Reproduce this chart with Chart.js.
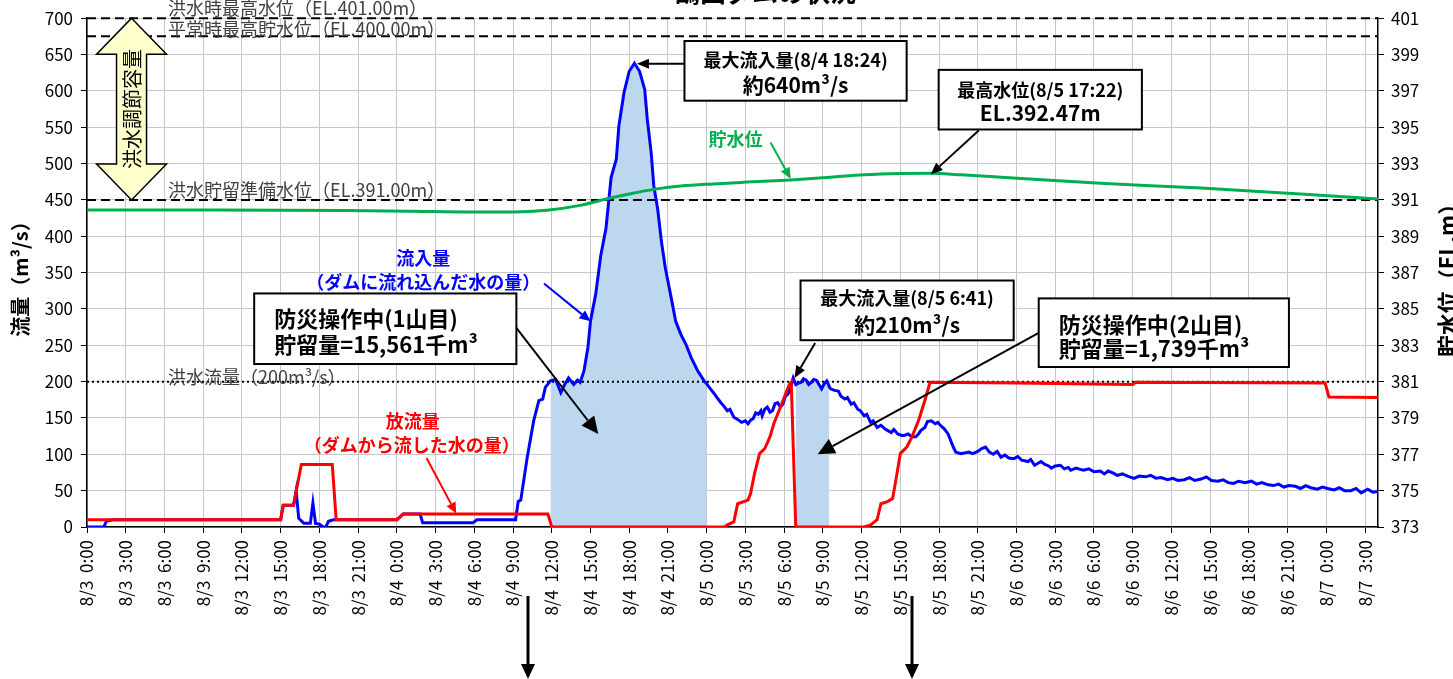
<!DOCTYPE html>
<html lang="ja">
<head>
<meta charset="UTF-8">
<title>ダムの状況</title>
<script src="https://cdn.jsdelivr.net/npm/chart.js"></script>
<style>
  html, body { margin: 0; padding: 0; background: #fff; }
  #wrap { width: 1453px; height: 679px; }
</style>
</head>
<body>
<div id="wrap"><canvas id="damChart" width="1453" height="679"></canvas></div>
<script>
const FONT = '"Noto Sans CJK JP", "Noto Sans", sans-serif';

// 時刻は 8/3 0:00 からの経過時間 [h]
const xTickLabels = [
  '8/3  0:00', '8/3  3:00', '8/3  6:00', '8/3  9:00', '8/3  12:00', '8/3  15:00', '8/3  18:00', '8/3  21:00',
  '8/4  0:00', '8/4  3:00', '8/4  6:00', '8/4  9:00', '8/4  12:00', '8/4  15:00', '8/4  18:00', '8/4  21:00',
  '8/5  0:00', '8/5  3:00', '8/5  6:00', '8/5  9:00', '8/5  12:00', '8/5  15:00', '8/5  18:00', '8/5  21:00',
  '8/6  0:00', '8/6  3:00', '8/6  6:00', '8/6  9:00', '8/6  12:00', '8/6  15:00', '8/6  18:00', '8/6  21:00',
  '8/7  0:00', '8/7  3:00'
];

// 流入量 [h, m3/s]
const inflow = [
  [0,0],[1.3,0],[1.5,8],[2,10],[15,10],[15.2,30],[16,30],[16.2,50],[16.4,12],[16.8,5],[17.3,5],[17.5,33],
  [17.7,5],[18,4],[18.3,0],[18.5,0],[18.7,8],[19.1,10],[24,10],[24.5,18],[25.8,18],[26,6],[29.9,6],[30.2,10],
  [33.2,10],[33.4,35],[33.6,37],[34.1,96],[34.6,146],[35,174],[35.3,176],[35.5,192],[35.9,201],[36.3,203],
  [36.7,185],[37,196],[37.3,205],[37.7,196],[38,202],[38.2,199],[38.5,215],[38.8,247],[39,283],[39.4,320],
  [39.8,374],[40.2,411],[40.6,481],[41,506],[41.2,552],[41.6,598],[42,627],[42.4,638],[42.8,627],[43.2,602],
  [43.4,561],[43.7,515],[43.9,470],[44.2,438],[44.5,392],[44.8,356],[45.2,320],[45.6,283],[46,265],[46.4,251],
  [46.8,233],[47.3,215],[47.8,201],[48,197],[48.2,192],[48.6,183],[48.8,178],[49.1,171],[49.3,167],[49.6,160],
  [49.8,162],[50.1,151],[50.4,148],[50.7,144],[51,146],[51.2,142],[51.4,147],[51.6,149],[51.8,157],[52,155],
  [52.2,160],[52.3,153],[52.5,162],[52.7,165],[52.9,158],[53.1,160],[53.3,170],[53.5,171],[53.7,165],[53.9,169],
  [54.1,180],[54.3,183],[54.5,192],[54.7,205],[54.9,196],[55.1,198],[55.3,199],[55.5,204],[55.7,202],[55.9,196],
  [56.1,199],[56.3,203],[56.5,202],[56.7,196],[56.9,190],[57.1,197],[57.3,201],[57.5,193],[57.6,190],[57.9,188],
  [58.2,187],[58.4,180],[58.7,176],[58.9,178],[59.2,169],[59.4,171],[59.7,162],[59.9,160],[60.2,153],[60.4,155],
  [60.7,144],[60.9,146],[61.2,137],[61.5,140],[61.8,135],[62,133],[62.3,130],[62.5,134],[62.8,128],[63.1,126],
  [63.3,126],[63.6,128],[63.9,124],[64.2,124],[64.4,128],[64.6,133],[64.9,137],[65.1,145],[65.4,146],[65.7,142],
  [65.9,144],[66.1,140],[66.4,135],[66.7,128],[66.9,119],[67.1,110],[67.3,103],[67.7,101],[68,102],[68.3,103],
  [68.6,101],[69,104],[69.3,108],[69.6,110],[69.9,103],[70.2,100],[70.5,104],[70.8,96],[71.1,99],[71.4,95],
  [71.8,94],[72.1,97],[72.4,92],[72.9,90],[73.1,93],[73.4,85],[73.7,88],[73.9,90],[74.2,86],[74.5,84],[74.7,81],
  [75,84],[75.4,85],[75.7,80],[76,82],[76.2,78],[76.6,81],[77,79],[77.2,78],[77.6,80],[78,76],[78.5,77],[78.8,73],
  [79.1,77],[79.5,74],[79.8,71],[80.2,73],[80.6,70],[81.1,67],[81.5,70],[82,69],[82.4,71],[82.8,67],[83.2,68],
  [83.7,65],[84.1,67],[84.5,64],[85,65],[85.4,68],[85.8,64],[86.3,66],[86.7,69],[87.1,64],[87.6,63],[88,65],
  [88.4,61],[88.8,60],[89.2,63],[89.7,61],[90.2,63],[90.6,59],[91,61],[91.5,58],[91.9,57],[92.3,59],[92.7,55],
  [93.1,57],[93.6,56],[94,53],[94.4,57],[94.8,54],[95.3,52],[95.7,55],[96.1,53],[96.6,51],[97,54],[97.4,50],
  [97.9,50],[98.3,53],[98.7,47],[99.2,52],[99.6,48],[100,49]
];

// 放流量 [h, m3/s]
const outflow = [
  [0,10],[15,10],[15.2,30],[16,30],[16.6,86],[19,86],[19.3,10],[24,10],[24.5,18],[35.7,18],[36,0],[49.4,0],
  [49.6,3],[50.1,7],[50.4,32],[51.2,37],[51.4,46],[51.7,73],[52.1,101],[52.5,108],[52.9,124],[53.2,142],
  [53.6,160],[54,178],[54.4,196],[54.55,199],[54.9,0],[60.2,0],[60.7,3],[61.2,10],[61.5,32],[62,35],[62.4,39],
  [62.7,69],[63,101],[63.5,110],[63.9,124],[64.4,146],[64.9,174],[65.3,199],[72,198],[81,196],[81.2,199],
  [95.9,198],[96.2,179],[100,178]
];

// 貯水位 [h, EL.m]
const level = [
  [0,390.45],[10,390.45],[20,390.42],[25,390.38],[30,390.34],[33,390.34],[35.6,390.43],[38.2,390.70],
  [40.3,391.06],[42.1,391.34],[43.9,391.58],[46,391.76],[48.5,391.88],[51.1,391.98],[54.5,392.10],
  [57.6,392.25],[60.2,392.38],[63,392.45],[65.4,392.47],[67.7,392.38],[70.8,392.25],[78.5,391.92],
  [86.3,391.65],[94,391.32],[100,391.05]
];

// 防災操作中（貯留）の時間帯 [h]
const storageWindows = [[35.85, 48.0], [54.9, 57.5]];

// 基準水位 [EL.m] と洪水流量 [m3/s]
const elevLines = [401, 400, 391];
const elevLabels = ['洪水時最高水位（EL.401.00m）', '平常時最高貯水位（EL.400.00m）', '洪水貯留準備水位（EL.391.00m）'];
const floodFlow = 200;
const floodFlowLabel = '洪水流量（200m³/s）';

// 下の矢印の時刻 [h]
const markHours = [34.15, 63.9];

function pts(list) { return list.map(p => ({ x: p[0], y: p[1] })); }
function windowPts(list, from, to) { return pts(list.filter(p => p[0] >= from && p[0] <= to)); }
function hline(v) { return [{ x: 0, y: v }, { x: 100, y: v }]; }

const datasets = [
  { data: pts(level), yAxisID: 'y2', borderColor: '#00b050', borderWidth: 3, cubicInterpolationMode: 'monotone', order: 1 },
  { data: pts(outflow), yAxisID: 'y', borderColor: '#ff0000', borderWidth: 3, order: 2 },
  { data: pts(inflow), yAxisID: 'y', borderColor: '#0000ff', borderWidth: 3, order: 3 }
];
elevLines.forEach(v => datasets.push({
  data: hline(v), yAxisID: 'y2', borderColor: '#000', borderWidth: 2, borderDash: [9, 5], clip: false, order: 4
}));
datasets.push({ data: hline(floodFlow), yAxisID: 'y', borderColor: '#000', borderWidth: 2, borderDash: [2, 3], order: 4 });
storageWindows.forEach(w => datasets.push({
  data: windowPts(inflow, w[0], w[1]), yAxisID: 'y', borderWidth: 0, borderColor: 'rgba(0,0,0,0)',
  backgroundColor: '#bdd7ee', fill: 'origin', order: 5
}));

function arrow(ctx, x1, y1, x2, y2, color, width, head, hw) {
  const a = Math.atan2(y2 - y1, x2 - x1);
  const bx = x2 - head * Math.cos(a), by = y2 - head * Math.sin(a);
  ctx.save();
  ctx.setLineDash([]);
  ctx.strokeStyle = color; ctx.fillStyle = color; ctx.lineWidth = width;
  ctx.beginPath(); ctx.moveTo(x1, y1); ctx.lineTo(bx, by); ctx.stroke();
  ctx.beginPath();
  ctx.moveTo(x2, y2);
  ctx.lineTo(bx + hw * Math.sin(a), by - hw * Math.cos(a));
  ctx.lineTo(bx - hw * Math.sin(a), by + hw * Math.cos(a));
  ctx.closePath(); ctx.fill();
  ctx.restore();
}

// 注記（位置はデータ座標）
const boxes = [
  { h: [46.28, 63.49], v: [668.6, 586.5], lines: ['最大流入量(8/4 18:24)', '約640m³/s'], dy: [19, 44], size: [18, 21] },
  { h: [65.97, 81.71], v: [628.9, 546.9], lines: ['最高水位(8/5 17:22)', 'EL.392.47m'], dy: [20, 43], size: [18, 21] },
  { h: [12.95, 33.26], v: [321.3, 224.2], lines: ['防災操作中(1山目)', '貯留量=15,561千m³'], dy: [25, 51], size: [22, 22], left: 20 },
  { h: [55.27, 71.78], v: [339.1, 257.0], lines: ['最大流入量(8/5 6:41)', '約210m³/s'], dy: [18, 44], size: [18, 21] },
  { h: [73.72, 93.10], v: [314.5, 220.1], lines: ['防災操作中(2山目)', '貯留量=1,739千m³'], dy: [26, 50], size: [22, 22], left: 20 }
];
const arrows = [
  { from: [46.28, 637.5], to: [42.6, 637.5], color: '#000', head: 12, hw: 5 },
  { from: [69.07, 545.5], to: [65.35, 485], color: '#000', head: 12, hw: 5 },
  { from: [33.26, 274], to: [39.6, 128], color: '#000', head: 17, hw: 8 },
  { from: [56.4, 253], to: [54.8, 205], color: '#000', head: 12, hw: 5 },
  { from: [73.72, 267], to: [56.6, 100], color: '#000', head: 17, hw: 8 },
  { from: [35.4, 335], to: [39.0, 283], color: '#0000ff', head: 11, hw: 5 },
  { from: [26.3, 95], to: [28.6, 18.5], color: '#ff0000', head: 11, hw: 5 },
  { from: [52.95, 529], to: [54.5, 479], color: '#00b050', head: 11, hw: 5 }
];
const seriesNotes = [
  { text: '流入量', at: [26.05, 369.2], color: '#0000ff' },
  { text: '（ダムに流れ込んだ水の量）', at: [26.05, 336.2], color: '#0000ff' },
  { text: '放流量', at: [25.23, 146.3], color: '#ff0000' },
  { text: '（ダムから流した水の量）', at: [25.16, 112.1], color: '#ff0000' },
  { text: '貯水位', at: [50.23, 533.6], color: '#00b050' }
];

const notes = {
  id: 'notes',
  afterDraw(chart) {
    const { ctx, scales } = chart;
    const X = h => scales.x.getPixelForValue(h);
    const Y = v => scales.y.getPixelForValue(v);
    const Y2 = v => scales.y2.getPixelForValue(v);
    ctx.save();
    ctx.setLineDash([]);

    // タイトル（上端で切れている）
    ctx.fillStyle = '#000';
    ctx.font = `bold 26px ${FONT}`;
    ctx.textAlign = 'center';
    ctx.textBaseline = 'alphabetic';
    ctx.fillText('鶴田ダムの状況', 765, 2);

    // 基準線ラベル
    ctx.font = `18px ${FONT}`;
    ctx.fillStyle = '#404040';
    ctx.textAlign = 'left';
    ctx.textBaseline = 'middle';
    const lift = [10, 7, 10];
    elevLines.forEach((v, i) => ctx.fillText(elevLabels[i], X(6.28), Y2(v) - lift[i]));
    ctx.fillText(floodFlowLabel, X(6.28), Y(floodFlow) - 4);

    // 洪水調節容量の両矢印
    const cx = X(3.45), top = Y2(401), bot = Y2(391), hh = 36, hw = 35, sw = 15;
    ctx.beginPath();
    ctx.moveTo(cx, top);
    ctx.lineTo(cx + hw, top + hh); ctx.lineTo(cx + sw, top + hh);
    ctx.lineTo(cx + sw, bot - hh); ctx.lineTo(cx + hw, bot - hh);
    ctx.lineTo(cx, bot);
    ctx.lineTo(cx - hw, bot - hh); ctx.lineTo(cx - sw, bot - hh);
    ctx.lineTo(cx - sw, top + hh); ctx.lineTo(cx - hw, top + hh);
    ctx.closePath();
    ctx.fillStyle = '#ffffcc'; ctx.fill();
    ctx.strokeStyle = '#000'; ctx.lineWidth = 1.5; ctx.stroke();
    ctx.save();
    ctx.translate(cx, (top + bot) / 2);
    ctx.rotate(-Math.PI / 2);
    ctx.fillStyle = '#000';
    ctx.font = `20px ${FONT}`;
    ctx.textAlign = 'center';
    ctx.fillText('洪水調節容量', 0, 1);
    ctx.restore();

    // 系列名
    ctx.font = `bold 18px ${FONT}`;
    ctx.textAlign = 'center';
    seriesNotes.forEach(n => { ctx.fillStyle = n.color; ctx.fillText(n.text, X(n.at[0]), Y(n.at[1])); });

    // 矢印
    arrows.forEach(a => arrow(ctx, X(a.from[0]), Y(a.from[1]), X(a.to[0]), Y(a.to[1]), a.color, 2, a.head, a.hw));

    // 注記ボックス
    boxes.forEach(b => {
      const x1 = X(b.h[0]), x2 = X(b.h[1]), y1 = Y(b.v[0]), y2 = Y(b.v[1]);
      ctx.fillStyle = '#fff';
      ctx.fillRect(x1, y1, x2 - x1, y2 - y1);
      ctx.strokeStyle = '#000'; ctx.lineWidth = 2;
      ctx.strokeRect(x1, y1, x2 - x1, y2 - y1);
      ctx.fillStyle = '#000';
      b.lines.forEach((t, i) => {
        ctx.font = `bold ${b.size[i]}px ${FONT}`;
        if (b.left) { ctx.textAlign = 'left'; ctx.fillText(t, x1 + b.left, y1 + b.dy[i]); }
        else { ctx.textAlign = 'center'; ctx.fillText(t, (x1 + x2) / 2, y1 + b.dy[i]); }
      });
    });

    // 下の矢印（軸の外）
    ctx.fillStyle = '#000';
    markHours.forEach(h => {
      const mx = Math.round(X(h));
      ctx.fillRect(mx - 1.5, 596, 3, 70);
      ctx.beginPath();
      ctx.moveTo(mx - 7, 664); ctx.lineTo(mx + 7, 664); ctx.lineTo(mx, 679);
      ctx.closePath(); ctx.fill();
    });

    // 軸タイトル
    ctx.fillStyle = '#000';
    ctx.textAlign = 'center';
    ctx.font = `bold 20px ${FONT}`;
    ctx.save(); ctx.translate(20, 274); ctx.rotate(-Math.PI / 2); ctx.fillText('流量（m³/s）', 0, 0); ctx.restore();
    ctx.font = `bold 22px ${FONT}`;
    ctx.save(); ctx.translate(1448, 275); ctx.rotate(-Math.PI / 2); ctx.fillText('貯水位（EL.m）', 0, 0); ctx.restore();

    ctx.restore();
  }
};

const tickFont = { family: FONT, size: 17 };

new Chart(document.getElementById('damChart'), {
  type: 'line',
  data: { datasets },
  options: {
    responsive: false,
    animation: false,
    layout: { padding: { top: 15, left: 0, right: 0, bottom: 0 } },
    plugins: { legend: { display: false }, tooltip: { enabled: false } },
    elements: { point: { radius: 0 }, line: { tension: 0 } },
    scales: {
      x: {
        type: 'linear', min: 0, max: 100,
        ticks: {
          stepSize: 3, autoSkip: false, includeBounds: false, minRotation: 90, maxRotation: 90,
          padding: 7, color: '#000', font: tickFont,
          callback: v => xTickLabels[Math.round(v / 3)]
        },
        grid: { color: '#c8c8c8', tickColor: '#000', tickLength: 6 },
        border: { color: '#000', width: 1.5 },
        afterFit: s => { s.height = 152; }
      },
      y: {
        position: 'left', min: 0, max: 700,
        ticks: { stepSize: 50, padding: 8, color: '#000', font: tickFont },
        grid: { color: '#c8c8c8', tickColor: '#000', tickLength: 6 },
        border: { color: '#000', width: 1.5 },
        afterFit: s => { s.width = 87; }
      },
      y2: {
        position: 'right', min: 373, max: 401,
        ticks: { stepSize: 2, padding: 7, color: '#000', font: tickFont },
        grid: { drawOnChartArea: false, tickColor: '#000', tickLength: 6 },
        border: { color: '#000', width: 1.5 },
        afterFit: s => { s.width = 75; }
      }
    }
  },
  plugins: [notes]
});
</script>
</body>
</html>
